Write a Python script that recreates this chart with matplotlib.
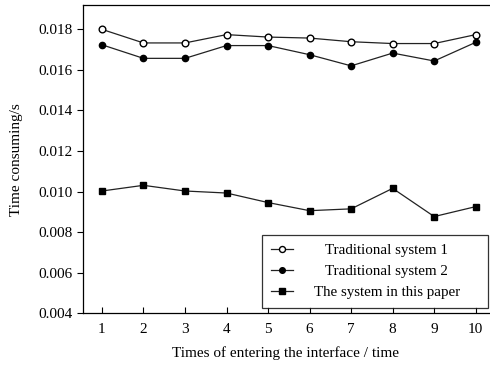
import numpy as np
import matplotlib.pyplot as plt

plt.rcParams['font.family'] = ['Liberation Serif', 'DejaVu Serif']

times = [1, 2, 3, 4, 5, 6, 7, 8, 9, 10]
trad1 = [0.01800, 0.01733, 0.01733, 0.01774, 0.01762, 0.01757, 0.01739, 0.01730, 0.01730, 0.01774]
trad2 = [0.01724, 0.01657, 0.01657, 0.01720, 0.01720, 0.01675, 0.01620, 0.01683, 0.01644, 0.01736]
ours = [0.01003, 0.01031, 0.01003, 0.00993, 0.00946, 0.00906, 0.00915, 0.01016, 0.00877, 0.00926]
labels = ['Traditional system 1', 'Traditional system 2', 'The system in this paper']
yticks = [0.004, 0.006, 0.008, 0.010, 0.012, 0.014, 0.016, 0.018]

fig = plt.figure(figsize=(4.9, 3.71), dpi=100)
ax = fig.add_axes([0.169, 0.1555, 0.829, 0.831])

pad = ' ' * 5  # widens the legend column on the right like the original
ax.plot(times, trad1, color='#222222', lw=0.9, marker='o', ms=4.8,
        mfc='white', mec='black', mew=1.0, label=labels[0] + pad)
ax.plot(times, trad2, color='#222222', lw=0.9, marker='o', ms=4.5,
        mfc='black', mec='black', label=labels[1] + pad)
ax.plot(times, ours, color='#222222', lw=0.9, marker='s', ms=4.5,
        mfc='black', mec='black', label=labels[2] + pad)

ax.set_xlim(0.54, 10.32)
ax.set_ylim(0.004, 0.0192)
ax.set_xticks(times)
ax.set_yticks(yticks)
ax.set_yticklabels([f'{v:.3f}' for v in yticks])
ax.tick_params(axis='x', direction='in', length=4, labelsize=11, pad=7)
ax.tick_params(axis='y', direction='out', length=4, labelsize=11)
ax.spines['right'].set_visible(False)
for s in ax.spines.values():
    s.set_linewidth(0.9)

ax.set_xlabel('Times of entering the interface / time', fontsize=11, labelpad=7)
ax.set_ylabel('Time consuming/s', fontsize=11, labelpad=11)

leg = ax.legend(loc='lower right', bbox_to_anchor=(0.997, 0.017), fontsize=10.8,
                frameon=True, fancybox=False, edgecolor='black',
                handlelength=1.45, borderpad=0.6, labelspacing=0.5,
                handletextpad=1.4, borderaxespad=0, markerscale=0.9)
leg.get_frame().set_linewidth(0.9)

# centre the visible label texts inside the legend column
fig.canvas.draw()
r = fig.canvas.get_renderer()
texts = leg.get_texts()
widths = []
for t, lab in zip(texts, labels):
    full = t.get_text()
    t.set_text(lab)
    widths.append(t.get_window_extent(r).width)
    t.set_text(full)
wmax = max(widths)
for t, w in zip(texts, widths):
    x0, y0 = t.get_position()
    t.set_position((x0 + (wmax - w) / 2, y0))

fig.savefig('out.png', dpi=100)
